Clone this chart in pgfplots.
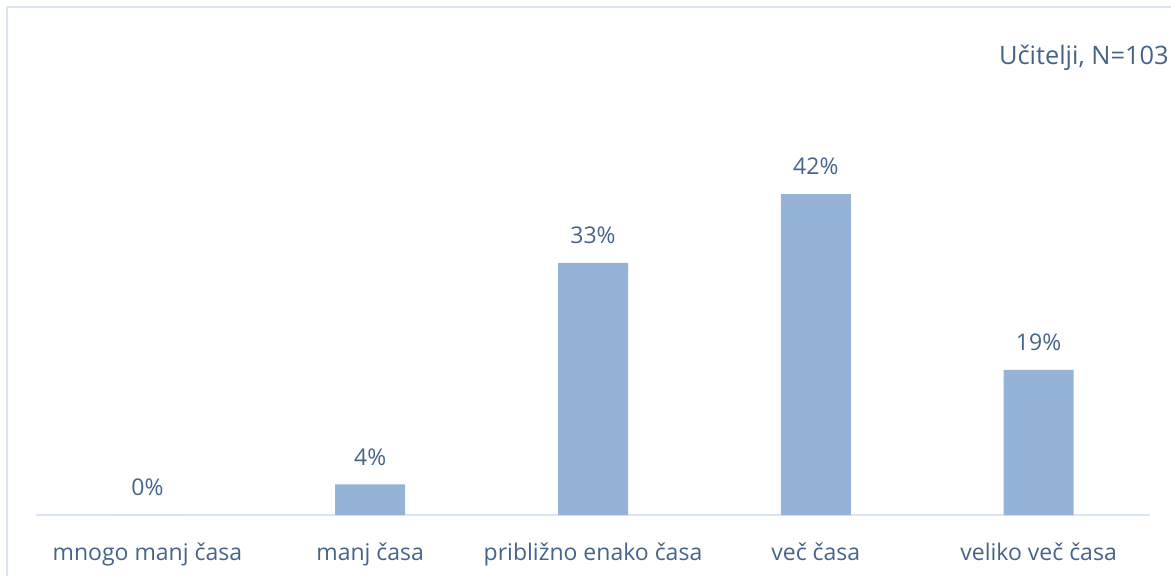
\documentclass[border=0pt]{standalone}
\usepackage{fontspec}
\setmainfont{Open Sans}
\usepackage{pgfplots}
\pgfplotsset{compat=1.18}
\definecolor{barc}{HTML}{95B3D7}
\definecolor{txt}{HTML}{46648A}
\definecolor{frame}{HTML}{DCE6F2}
\begin{document}
\begin{tikzpicture}
\clip (0,0) rectangle (585.5pt,287.5pt);
\draw[frame, line width=1.2pt] (3.5pt,-20pt) rectangle (620pt,284pt);
\begin{axis}[
  at={(18pt,30pt)}, anchor=south west,
  scale only axis, width=557pt, height=229.2pt,
  xmin=-0.5, xmax=4.5, ymin=0, ymax=60,
  axis x line=bottom, axis y line=none,
  axis line style={frame, line width=1.2pt, -},
  xtick=data, xticklabels={mnogo manj časa, manj časa, približno enako časa, več časa, veliko več časa},
  xtick style={draw=none},
  xticklabel style={font=\fontsize{11.5}{13}\selectfont, text=txt, yshift=-6pt},
  ybar, bar width=35pt,
  /pgf/number format/assume math mode=true,
  nodes near coords={\pgfmathprintnumber{\pgfplotspointmeta}\%},
  nodes near coords style={font=\fontsize{11.5}{13}\selectfont, text=txt, anchor=south, yshift=6pt},
]
\addplot[fill=barc, draw=none] coordinates {(0,0) (1,4) (2,33) (3,42) (4,19)};
\end{axis}
\node[anchor=east, text=txt, font=\fontsize{12.7}{15}\selectfont, inner sep=0pt] at (584.5pt,258.5pt) {Učitelji, N=103};
\end{tikzpicture}
\end{document}
